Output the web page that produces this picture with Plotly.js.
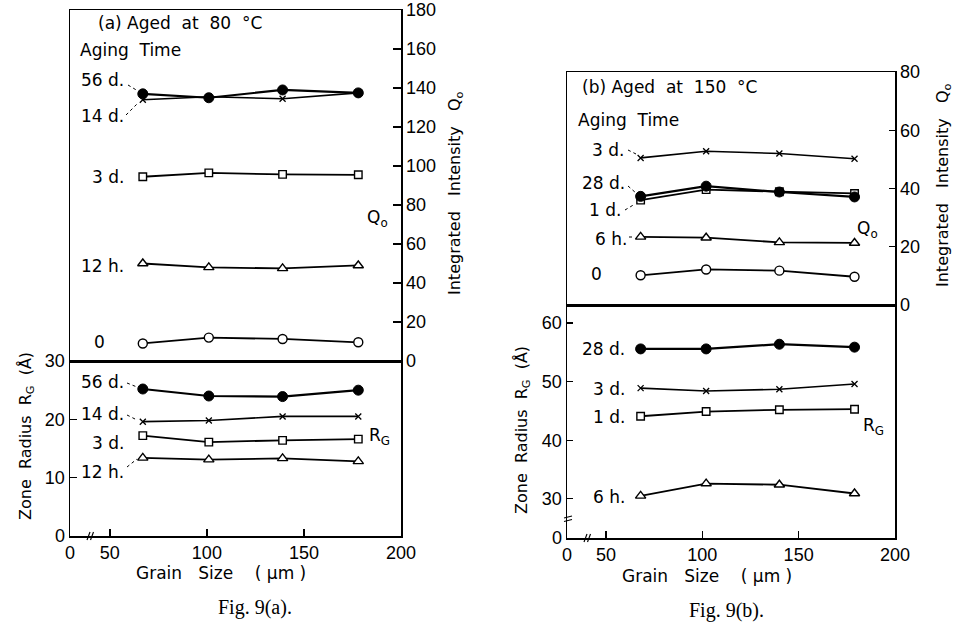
<!DOCTYPE html>
<html><head><meta charset="utf-8">
<script src="https://cdn.plot.ly/plotly-3.0.1.min.js"></script>
<style>body{margin:0;background:#fff}</style>
</head><body><div id="chart" style="width:960px;height:622px"></div>
<script>
// ---- data ----
const grainA = [67, 101, 139, 178];
const grainB = [68, 102, 140, 179];
// panel (a) integrated intensity Q0
const aQ_56d = [137, 135, 139, 137.5];
const aQ_14d = [134, 135.5, 134.5, 137.5];
const aQ_3d  = [94.5, 96.5, 95.7, 95.5];
const aQ_12h = [50, 48, 47.5, 49];
const aQ_0   = [9, 12, 11.3, 9.6];
// panel (a) zone radius RG
const aR_56d = [25.2, 24.0, 23.9, 25.0];
const aR_14d = [19.6, 19.8, 20.5, 20.5];
const aR_3d  = [17.2, 16.1, 16.4, 16.6];
const aR_12h = [13.4, 13.1, 13.3, 12.8];
// panel (b) integrated intensity Q0
const bQ_3d  = [50.5, 52.8, 52.0, 50.2];
const bQ_28d = [37.3, 40.8, 38.8, 37.1];
const bQ_1d  = [36.0, 39.6, 38.9, 38.3];
const bQ_6h  = [23.4, 23.1, 21.5, 21.3];
const bQ_0   = [10.2, 12.2, 11.8, 9.7];
// panel (b) zone radius RG
const bR_28d = [55.6, 55.6, 56.4, 55.9];
const bR_3d  = [48.9, 48.4, 48.7, 49.6];
const bR_1d  = [44.1, 44.9, 45.2, 45.3];
const bR_6h  = [30.5, 32.6, 32.4, 30.9];
// tick labels (axis broken between 0 and 50 / 0 and 30)
const xTickTextA = ['0', '50', '100', '150', '200'];
const xTickValsA = [29.5, 50, 100, 150, 200];
const xTickValsB = [29.8, 50, 100, 150, 200];
const aRTicks = [0, 10, 20, 30];
const aQTicks = [0, 20, 40, 60, 80, 100, 120, 140, 160, 180];
const bRTickVals = [23.3, 30, 40, 50, 60];
const bRTickText = ['0', '30', '40', '50', '60'];
const bQTicks = [0, 20, 40, 60, 80];

// ---- helpers ----
const W = 960, H = 622;
const X = p => p / W, Y = p => 1 - p / H;
const BLACK = '#000';
const tickFont = {family: 'Liberation Sans, Arial, sans-serif', size: 18, color: BLACK};
const txtFont = {family: 'DejaVu Sans, sans-serif', size: 16, color: BLACK};

const sty = {
  filled:   {symbol: 'circle', size: 10, color: BLACK, line: {color: BLACK, width: 1}},
  cross:    {symbol: 'x-thin', size: 6, color: BLACK, line: {color: BLACK, width: 1.3}},
  square:   {symbol: 'square', size: 7.5, color: '#fff', line: {color: BLACK, width: 1.4}},
  triangle: {symbol: 'triangle-up', size: 9, color: '#fff', line: {color: BLACK, width: 1.4}},
  circle:   {symbol: 'circle', size: 9, color: '#fff', line: {color: BLACK, width: 1.4}}
};
function tr(x, y, s, xa, ya, lw) {
  return {x: x, y: y, xaxis: xa, yaxis: ya, type: 'scatter', mode: 'lines+markers',
    line: {color: BLACK, width: lw || 1.8}, marker: sty[s], showlegend: false, hoverinfo: 'skip'};
}

const data = [
  tr(grainA, aQ_14d, 'cross', 'x2', 'y2', 1.6),
  tr(grainA, aQ_56d, 'filled', 'x2', 'y2', 2.2),
  tr(grainA, aQ_3d, 'square', 'x2', 'y2'),
  tr(grainA, aQ_12h, 'triangle', 'x2', 'y2'),
  tr(grainA, aQ_0, 'circle', 'x2', 'y2'),
  tr(grainA, aR_56d, 'filled', 'x', 'y', 2.2),
  tr(grainA, aR_14d, 'cross', 'x', 'y', 1.6),
  tr(grainA, aR_3d, 'square', 'x', 'y'),
  tr(grainA, aR_12h, 'triangle', 'x', 'y'),
  tr(grainB, bQ_3d, 'cross', 'x4', 'y4', 1.6),
  tr(grainB, bQ_1d, 'square', 'x4', 'y4'),
  tr(grainB, bQ_28d, 'filled', 'x4', 'y4', 2.2),
  tr(grainB, bQ_6h, 'triangle', 'x4', 'y4'),
  tr(grainB, bQ_0, 'circle', 'x4', 'y4'),
  tr(grainB, bR_28d, 'filled', 'x3', 'y3', 2.2),
  tr(grainB, bR_3d, 'cross', 'x3', 'y3', 1.6),
  tr(grainB, bR_1d, 'square', 'x3', 'y3'),
  tr(grainB, bR_6h, 'triangle', 'x3', 'y3')
];

const axBase = {showline: true, linecolor: BLACK, linewidth: 1.5, mirror: true,
  showgrid: false, zeroline: false, ticks: 'inside', ticklen: 7, tickwidth: 1.4,
  tickcolor: BLACK, tickfont: tickFont, fixedrange: true};
const ax = o => Object.assign({}, axBase, o);

const layout = {
  width: W, height: H, margin: {l: 0, r: 0, t: 0, b: 0},
  paper_bgcolor: '#fff', plot_bgcolor: 'rgba(0,0,0,0)', showlegend: false,
  xaxis:  ax({domain: [X(70), X(401)], range: [29.5, 200], anchor: 'y', tickvals: xTickValsA, ticktext: xTickTextA}),
  yaxis:  ax({domain: [Y(536), Y(361)], range: [0, 30], anchor: 'x', tickvals: aRTicks, side: 'left'}),
  xaxis2: ax({domain: [X(70), X(401)], range: [29.5, 200], anchor: 'y2', showticklabels: false, ticks: ''}),
  yaxis2: ax({domain: [Y(361), Y(10)], range: [0, 180], anchor: 'x2', tickvals: aQTicks, side: 'right', ticklen: 8}),
  xaxis3: ax({domain: [X(567), X(895)], range: [29.8, 200], anchor: 'y3', tickvals: xTickValsB, ticktext: xTickTextA}),
  yaxis3: ax({domain: [Y(538), Y(305)], range: [23.3, 63.1], anchor: 'x3', tickvals: bRTickVals, ticktext: bRTickText, side: 'left', ticklen: 6}),
  xaxis4: ax({domain: [X(567), X(895)], range: [29.8, 200], anchor: 'y4', showticklabels: false, ticks: ''}),
  yaxis4: ax({domain: [Y(305), Y(72)], range: [0, 80], anchor: 'x4', tickvals: bQTicks, side: 'right', ticklen: 6}),
  annotations: [],
  shapes: []
};

function lab(text, px, py, anchor, opt) {
  layout.annotations.push(Object.assign({text: text, xref: 'paper', yref: 'paper',
    x: X(px), y: Y(py), xanchor: anchor || 'right', yanchor: 'middle', showarrow: false,
    font: txtFont}, opt || {}));
}
function seg(x0, y0, x1, y1, dash, w) {
  layout.shapes.push({type: 'line', xref: 'paper', yref: 'paper', x0: X(x0), y0: Y(y0), x1: X(x1), y1: Y(y1),
    line: {color: BLACK, width: w || 1, dash: dash || 'solid'}});
}
const f17 = Object.assign({}, txtFont, {size: 17});
const serif = {family: 'Liberation Serif, serif', size: 20, color: BLACK};

// panel (a) texts
lab('(a) Aged  at  80  °C', 96, 23, 'left', {font: f17});
lab('Aging  Time', 78, 50, 'left', {font: f17});
lab('56 d.', 126, 80, 'right', {font: f17});
lab('14 d.', 126, 116, 'right', {font: f17});
lab('3 d.', 126, 177, 'right', {font: f17});
lab('12 h.', 126, 266, 'right', {font: f17});
lab('0', 107, 342, 'right', {font: f17});
lab('Q<sub>o</sub>', 377, 218, 'center', {font: f17});
lab('56 d.', 126, 382, 'right', {font: f17});
lab('14 d.', 126, 414, 'right', {font: f17});
lab('3 d.', 126, 443, 'right', {font: f17});
lab('12 h.', 126, 472, 'right', {font: f17});
lab('R<sub>G</sub>', 367, 436, 'left', {font: f17});
lab('Zone  Radius  R<sub>G</sub>  (Å)', 26, 436, 'center', {textangle: -90, font: txtFont});
lab('Integrated   Intensity   Q<sub>o</sub>', 455, 193, 'center', {textangle: -90, font: txtFont});
lab('Grain   Size    ( μm )', 221, 573, 'center', {font: f17});
lab('Fig. 9(a).', 255, 607, 'center', {font: serif});

// panel (b) texts
lab('(b) Aged  at  150  °C', 580, 87, 'left', {font: f17});
lab('Aging  Time', 576, 120, 'left', {font: f17});
lab('3 d.', 626, 150, 'right', {font: f17});
lab('28 d.', 627, 183, 'right', {font: f17});
lab('1 d.', 623, 210, 'right', {font: f17});
lab('6 h.', 629, 239, 'right', {font: f17});
lab('0', 604, 274, 'right', {font: f17});
lab('Q<sub>o</sub>', 867, 229, 'center', {font: f17});
lab('28 d.', 627, 349, 'right', {font: f17});
lab('3 d.', 627, 389, 'right', {font: f17});
lab('1 d.', 627, 417, 'right', {font: f17});
lab('6 h.', 627, 497, 'right', {font: f17});
lab('R<sub>G</sub>', 861, 426, 'left', {font: f17});
lab('Zone  Radius  R<sub>G</sub>  (Å)', 522, 430, 'center', {textangle: -90, font: txtFont});
lab('Integrated   Intensity   Q<sub>o</sub>', 943, 185, 'center', {textangle: -90, font: txtFont});
lab('Grain   Size    ( μm )', 707, 576, 'center', {font: f17});
lab('Fig. 9(b).', 726, 610, 'center', {font: serif});

// leader lines
seg(128, 85, 138, 91, 'dot');
seg(126, 115, 137, 104, 'dot');
seg(127, 383, 137, 387, 'dot');
seg(127, 415, 137, 420, 'dot');
seg(127, 467, 137, 459, 'dot');
seg(628, 150, 636, 154, 'dot');
seg(628, 186, 636, 193, 'dot');
seg(625, 210, 635, 204, 'dot');
seg(629, 237, 635, 237, 'dot');

// axis break marks
seg(87, 540, 90, 532, 'solid', 1.2);
seg(90.5, 540, 93.5, 532, 'solid', 1.2);
seg(584, 542, 587, 534, 'solid', 1.2);
seg(587.5, 542, 590.5, 534, 'solid', 1.2);
seg(564, 518, 572, 516, 'solid', 1.2);
seg(564, 521.5, 572, 519.5, 'solid', 1.2);

Plotly.newPlot('chart', data, layout, {displayModeBar: false, staticPlot: true});
</script>
</body></html>
